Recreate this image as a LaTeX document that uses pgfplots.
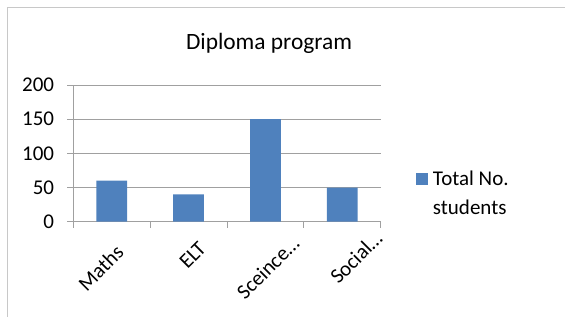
\documentclass[border=0pt]{standalone}
\usepackage{fontspec}
\setmainfont{Carlito}
\usepackage{pgfplots}
\pgfplotsset{compat=1.18}
\definecolor{barblue}{HTML}{4F81BD}
\definecolor{gridgray}{HTML}{A0A0A0}
\definecolor{framegray}{HTML}{C8C8C8}
\newcommand{\cf}{\fontsize{21}{29}\selectfont}
\newcommand{\lab}[3]{\raisebox{#2}[\height][\depth]{#3}\kern#1}
\begin{document}
\begin{tikzpicture}[x=1pt,y=1pt]
\useasboundingbox (0,0) rectangle (565,316);
\draw[framegray, line width=0.8pt] (7.3,-2) -- (7.3,308.7) -- (567,308.7);
\node[anchor=base, font=\fontsize{23.4}{28}\selectfont] at (269,266.7) {Diploma program};
\begin{axis}[
  at={(73.3pt,94.3pt)}, anchor=south west,
  scale only axis, width=307.4pt, height=136.7pt,
  xmin=0.5, xmax=4.5, ymin=0, ymax=200,
  ytick={0,50,100,150,200},
  xtick={0.5,1.5,2.5,3.5,4.5},
  x tick label as interval,
  xticklabels={{\lab{4.6pt}{-8.8pt}{Maths}},{\lab{-1.8pt}{-11pt}{ELT}},{\lab{-17pt}{-18.4pt}{Sceince…}},{\lab{-25.1pt}{-18.8pt}{Social…}}},
  axis lines*=left,
  axis line style={draw=gridgray, line width=0.8pt},
  ymajorgrids, grid style={draw=gridgray, line width=0.8pt},
  tick style={draw=gridgray, line width=0.8pt},
  tick align=outside, major tick length=6pt,
  /pgf/number format/assume math mode=true,
  tick label style={font=\cf},
  yticklabel style={anchor=east, inner sep=0pt, xshift=-13pt},
  xticklabel style={xshift=0pt, yshift=-6pt, rotate=45, anchor=north east, inner sep=0pt},
  ybar, bar width=30.7pt,
  legend style={draw=none, fill=none, inner sep=0pt, at={(1.114,0.21)}, anchor=west,
    font=\cf, nodes={align=left}, row sep=0pt},
  legend image code/.code={\fill[#1] (0pt,8pt) rectangle (12pt,20pt); \path (0pt,8pt) (15pt,20pt);},
]
\addplot[fill=barblue, draw=none] coordinates {(1,60) (2,40) (3,150) (4,50)};
\addlegendentry{Total No.\\students}
\end{axis}
\end{tikzpicture}
\end{document}
